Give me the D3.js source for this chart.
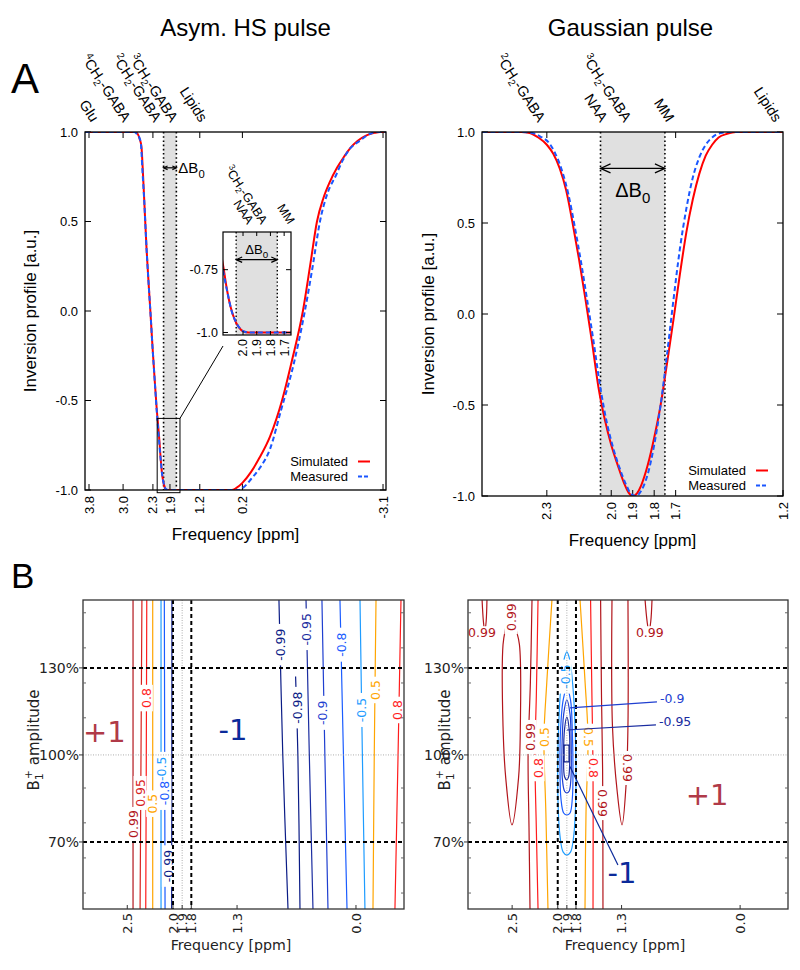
<!DOCTYPE html>
<html><head><meta charset="utf-8">
<script src="https://cdn.jsdelivr.net/npm/d3@7/dist/d3.min.js"></script>
<style>
html,body{margin:0;padding:0;background:#fff;}
svg{display:block;}
.gp{font-family:"Liberation Sans",Arial,Helvetica,sans-serif;}
.mp{font-family:"DejaVu Sans",sans-serif;}
</style></head><body>
<svg id="fig" width="800" height="970"></svg>
<script>
// ================= DATA =================
// Panel A left: asymmetric HS pulse (ppm, inversion profile)
const hsSimPpm  = [3.9,2.72,2.66,2.61,2.57,2.54,2.5,2.45,2.4,2.36,2.31,2.26,2.21,2.17,2.14,2.12,2.09,2.06,2.03,2.0,1.96,0.45,0.35,0.2,0.0,-0.2,-0.45,-0.73,-0.97,-1.22,-1.4,-1.55,-1.7,-1.85,-2.02,-2.18,-2.33,-2.5,-2.7,-2.9,-3.03,-3.17];
const hsSimVal  = [1,1,0.99,0.96,0.92,0.8,0.6,0.35,0.15,0.0,-0.2,-0.38,-0.55,-0.66,-0.75,-0.82,-0.9,-0.95,-0.98,-0.995,-1,-1,-0.99,-0.96,-0.9,-0.82,-0.7,-0.5,-0.27,0.0,0.27,0.5,0.63,0.72,0.8,0.86,0.91,0.95,0.98,0.995,1,1];
const hsMeasPpm = [3.9,2.74,2.68,2.62,2.58,2.55,2.5,2.45,2.4,2.36,2.31,2.26,2.21,2.17,2.14,2.11,2.08,2.05,2.02,1.99,1.95,0.28,0.15,0.0,-0.2,-0.45,-0.7,-1.0,-1.25,-1.45,-1.62,-1.8,-2.0,-2.15,-2.3,-2.55,-2.8,-2.95,-3.17];
const hsMeasVal = [1,1,0.99,0.97,0.93,0.8,0.6,0.35,0.15,0.0,-0.2,-0.38,-0.56,-0.68,-0.77,-0.85,-0.92,-0.96,-0.985,-0.997,-1,-1,-0.98,-0.94,-0.88,-0.77,-0.56,-0.3,-0.02,0.25,0.5,0.66,0.76,0.84,0.9,0.95,0.99,1,1];
const hsTickPpm = [3.8,3.0,2.3,1.9,1.2,0.2,-3.1];
const hsTickLbl = ["3.8","3.0","2.3","1.9","1.2","0.2","-3.1"];
const hsMetNames = ["Glu","4CH2-GABA","2CH2-GABA","3CH2-GABA","Lipids"];
const hsMetPpm   = [3.75,3.0,2.28,1.89,1.2];
const insetTickPpm = [2.0,1.9,1.8,1.7];
const insetMetNames = ["3CH2-GABA","NAA","MM"];
const insetMetPpm   = [1.9,2.0,1.7];
// Panel A right: Gaussian pulse
const gSimPpm  = [2.6,2.42,2.38,2.34,2.3,2.27,2.24,2.21,2.18,2.15,2.12,2.09,2.06,2.03,2.0,1.97,1.94,1.92,1.9,1.88,1.86,1.83,1.8,1.77,1.74,1.71,1.68,1.65,1.62,1.59,1.56,1.53,1.5,1.46,1.42,1.2];
const gSimVal  = [1,1,0.995,0.97,0.93,0.88,0.8,0.68,0.5,0.3,0.08,-0.15,-0.4,-0.58,-0.72,-0.83,-0.93,-0.98,-1,-0.985,-0.94,-0.83,-0.68,-0.5,-0.27,-0.03,0.22,0.45,0.63,0.77,0.87,0.93,0.97,0.99,1,1];
const gMeasPpm = [2.6,2.42,2.37,2.33,2.29,2.26,2.23,2.2,2.17,2.14,2.11,2.08,2.05,2.02,1.99,1.96,1.93,1.91,1.885,1.86,1.83,1.8,1.77,1.74,1.71,1.68,1.65,1.62,1.59,1.56,1.53,1.49,1.45,1.2];
const gMeasVal = [1,1,0.995,0.975,0.94,0.88,0.79,0.66,0.48,0.28,0.06,-0.17,-0.41,-0.6,-0.74,-0.85,-0.94,-0.985,-1,-0.97,-0.88,-0.72,-0.5,-0.22,0.08,0.36,0.58,0.75,0.86,0.93,0.97,0.995,1,1];
const gTickPpm = [2.3,2.0,1.9,1.8,1.7,1.2];
const gTickLbl = ["2.3","2.0","1.9","1.8","1.7","1.2"];
const gMetNames = ["2CH2-GABA","NAA","3CH2-GABA","MM","Lipids"];
const gMetPpm   = [2.3,2.01,1.9,1.7,1.2];
const yTicksA = [1.0,0.5,0.0,-0.5,-1.0];
const yLblA   = ["1.0","0.5","0.0","-0.5","-1.0"];
const dB0 = [2.05,1.75];           // ΔB0 band (ppm)
const legendNames = ["Simulated","Measured"];

// Panel B: B1 robustness contour maps (ppm, B1 %)
const bTickPpm = [2.5,2.0,1.9,1.8,1.3,0.0];
const bTickLbl = ["2.5","2.0","1.9","1.8","1.3","0.0"];
const b1Ticks  = [130,100,70];
const b1Lbl    = ["130%","100%","70%"];
const b1Minor  = [149,136.9,124.8,112.8,88.6,76.6,64.5,52.4];
// HS contours
const hsC_p99  = [[2.437,153.4],[2.437,100],[2.437,46.9]];
const hsC_p95  = [[2.34,153.4],[2.35,100],[2.36,46.9]];
const hsC_p80  = [[2.287,153.4],[2.292,100],[2.298,46.9]];
const hsC_p50  = [[2.222,153.4],[2.222,100],[2.222,46.9]];
const hsC_m50  = [[2.131,153.4],[2.131,100],[2.131,46.9]];
const hsC_m80  = [[2.095,153.4],[2.091,100],[2.087,46.9]];
const hsC_m99a = [[2.012,153.4],[2.013,100],[2.015,46.9]];
const hsC_m99b = [[0.842,153.4],[0.80,100],[0.743,46.9]];
const hsC_m98  = [[0.66,127],[0.635,100],[0.612,46.9]];
const hsC_m95  = [[0.546,153.4],[0.51,100],[0.47,46.9]];
const hsC_m90  = [[0.372,153.4],[0.34,100],[0.306,46.9]];
const hsC_m80b = [[0.175,153.4],[0.137,100],[0.098,46.9]];
const hsC_m50b = [[-0.044,153.4],[-0.07,100],[-0.098,46.9]];
const hsC_p50b = [[-0.219,153.4],[-0.2,100],[-0.186,46.9]];
const hsC_p80b = [[-0.492,153.4],[-0.46,100],[-0.426,46.9]];
const hsContours = [
  [0.99,hsC_p99],[0.95,hsC_p95],[0.8,hsC_p80],[0.5,hsC_p50],[-0.5,hsC_m50],[-0.8,hsC_m80],[-0.99,hsC_m99a],
  [-0.99,hsC_m99b],[-0.98,hsC_m98],[-0.95,hsC_m95],[-0.9,hsC_m90],[-0.8,hsC_m80b],[-0.5,hsC_m50b],[0.5,hsC_p50b],[0.8,hsC_p80b]];
// labels: [text, ppm, B1, rotation]
const hsCLabels = [
  ["0.99",2.437,76.2,-90],["0.95",2.36,86.9,-90],["0.8",2.292,119.6,-90],["0.5",2.222,83.2,-90],
  ["-0.5",2.131,95.2,-90],["-0.8",2.09,86.9,-90],["-0.99",2.05,61.7,-90],
  ["-0.99",0.83,138,-90],["-0.98",0.635,116.3,-90],["-0.95",0.537,143.3,-90],["-0.9",0.37,114.5,-90],
  ["-0.8",0.163,138,-90],["-0.5",-0.055,115.5,-90],["0.5",-0.21,122.4,-90],["0.8",-0.45,115.5,-90]];
// Gaussian contours
const gC_p99a = [[2.83,153.7],[2.815,146],[2.80,142.5],[2.785,146],[2.776,153.7]];
const gC_p99b = [[2.545,153.7],[2.56,146],[2.60,138],[2.60,110],[2.57,92],[2.502,75.9],[2.43,92],[2.41,110],[2.42,138],[2.475,146],[2.48,153.7]];
const gC_p99c = [[2.282,153.7],[2.30,125],[2.325,100],[2.315,75],[2.304,46.9]];
const gC_p99d = [[1.53,153.7],[1.52,120],[1.508,95],[1.504,46.9]];
const gC_p99e = [[1.405,153.7],[1.40,110],[1.35,88],[1.295,75.9],[1.25,90],[1.23,110],[1.23,153.7]];
const gC_p99f = [[1.043,153.7],[1.02,146],[1.0,142.5],[0.98,146],[0.966,153.7]];
const gC_p80a = [[2.216,153.7],[2.235,120],[2.25,100],[2.235,75],[2.216,46.9]];
const gC_p80b = [[1.64,153.7],[1.625,120],[1.613,95],[1.613,46.9]];
const gC_p50a = [[2.063,153.7],[2.12,125],[2.151,106],[2.13,80],[2.107,46.9]];
const gC_p50b = [[1.756,153.7],[1.70,125],[1.668,106],[1.69,80],[1.701,46.9]];
const gC_m50  = [[1.9,135.5],[1.93,133],[1.965,124],[1.99,110],[2.0,95],[1.995,82],[1.975,72],[1.94,66.5],[1.9,65.5],[1.86,66.5],[1.825,72],[1.805,82],[1.80,95],[1.81,110],[1.835,124],[1.87,133]];
const gC_m80  = [[1.9,123],[1.94,119],[1.97,108],[1.975,95],[1.965,85],[1.935,80],[1.9,79.3],[1.865,80],[1.84,85],[1.833,95],[1.84,108],[1.86,119]];
const gC_m90  = [[1.9,119],[1.935,114],[1.953,103],[1.95,92],[1.925,87.5],[1.9,86.9],[1.875,87.5],[1.855,92],[1.852,103],[1.865,114]];
const gC_m95  = [[1.9,113],[1.925,109],[1.935,100],[1.925,92.5],[1.9,91.4],[1.88,92.5],[1.868,100],[1.875,109]];
const gC_m99  = [[1.931,103.4],[1.876,103.4],[1.876,97.6],[1.931,97.6]];
const gContoursOpen = [[0.99,gC_p99a],[0.99,gC_p99b],[0.99,gC_p99c],[0.99,gC_p99d],[0.99,gC_p99e],[0.99,gC_p99f],
  [0.8,gC_p80a],[0.8,gC_p80b],[0.5,gC_p50a],[0.5,gC_p50b]];
const gContoursClosed = [[-0.5,gC_m50],[-0.8,gC_m80],[-0.9,gC_m90],[-0.95,gC_m95],[-0.99,gC_m99]];
const gCLabels = [
  ["0.99",2.83,142.1,0],["0.99",2.512,147.5,-90],["0.99",2.304,106.2,-90],["0.8",2.216,95.5,-90],["0.5",2.14,106.2,-90],
  ["-0.5",1.92,127,-90],["0.5",1.668,106.2,90],["0.8",1.613,95.5,90],["0.99",1.504,83.4,90],["0.99",1.23,95.5,90],["0.99",0.99,142.1,0]];
// leader-labelled levels [text, ppm, B1, target ppm, target B1]
const gLeaders = [["-0.9",0.879,119.3,1.866,116.2],["-0.95",0.89,111.4,1.898,108.6]];

// ================= DRAWING =================
const svg = d3.select("#fig");
const RED = "#ff0000", BLUE = "#1a56ff";
const levelColor = {"0.99":"#b2151b","0.95":"#d8221e","0.8":"#ff1c1c","0.5":"#ffa500","-0.5":"#1e9cff","-0.8":"#1a5cff","-0.9":"#1f3fd0","-0.95":"#1a2ca0","-0.98":"#0b1c86","-0.99":"#0b1c86"};

function zipPts(a,b){ return a.map((v,i)=>[v,b[i]]); }
function richText(t,n,fs){
  const m = n.match(/^(\d)CH2-GABA$/);
  const s = fs*0.68;
  if(m){
    t.append("tspan").attr("font-size",s).attr("dy",-fs*0.38).text(m[1]);
    t.append("tspan").attr("dy",fs*0.38).text("CH");
    t.append("tspan").attr("font-size",s).attr("dy",fs*0.22).text("2");
    t.append("tspan").attr("dy",-fs*0.22).text("-GABA");
  } else t.text(n);
}
function dB0Label(t,fs){
  t.append("tspan").text("ΔB");
  t.append("tspan").attr("font-size",fs*0.75).attr("dy",fs*0.3).text("0");
}
function arrow(g,xa,xb,yy,hs){
  g.append("line").attr("x1",xa).attr("x2",xb).attr("y1",yy).attr("y2",yy).attr("stroke","#000").attr("stroke-width",1.2);
  g.append("path").attr("d",`M${xa+hs},${yy-hs*0.45}L${xa},${yy}L${xa+hs},${yy+hs*0.45}`).attr("fill","none").attr("stroke","#000").attr("stroke-width",1.2);
  g.append("path").attr("d",`M${xb-hs},${yy-hs*0.45}L${xb},${yy}L${xb-hs},${yy+hs*0.45}`).attr("fill","none").attr("stroke","#000").attr("stroke-width",1.2);
}

// --- gnuplot style panel
function panelA(opt){
  const g = svg.append("g").attr("class","gp");
  const x = opt.x, y = opt.y;
  const [x0,x1] = x.range(), y1 = y.range()[0], y0 = y.range()[1];
  const clipId = opt.id+"clip";
  svg.append("defs").append("clipPath").attr("id",clipId).append("rect")
    .attr("x",x0).attr("y",y0).attr("width",x1-x0).attr("height",y1-y0);
  const tl=6;
  opt.topTicks.forEach(v=>g.append("line").attr("x1",x(v)).attr("x2",x(v)).attr("y1",y0).attr("y2",y0+tl).attr("stroke","#000"));
  g.append("rect").attr("x",x(dB0[0])).attr("y",y0).attr("width",x(dB0[1])-x(dB0[0])).attr("height",y1-y0).attr("fill","#e0e0e0");
  [dB0[0],dB0[1]].forEach(v=>g.append("line").attr("x1",x(v)).attr("x2",x(v)).attr("y1",y0).attr("y2",y1)
    .attr("stroke","#000").attr("stroke-width",1.6).attr("stroke-dasharray","1.6,2.6"));
  opt.xticks.forEach((v,i)=>{
    g.append("line").attr("x1",x(v)).attr("x2",x(v)).attr("y1",y1).attr("y2",y1-tl).attr("stroke","#000");
    g.append("text").attr("transform",`translate(${x(v)},${y1+6}) rotate(-90)`).attr("text-anchor","end")
      .attr("dy","0.35em").attr("font-size",13).text(opt.xlbl[i]);
  });
  yTicksA.forEach((v,i)=>{
    g.append("line").attr("x1",x0).attr("x2",x0+tl).attr("y1",y(v)).attr("y2",y(v)).attr("stroke","#000");
    g.append("line").attr("x1",x1).attr("x2",x1-tl).attr("y1",y(v)).attr("y2",y(v)).attr("stroke","#000");
    g.append("text").attr("x",x0-7).attr("y",y(v)).attr("dy","0.35em").attr("text-anchor","end").attr("font-size",13).text(yLblA[i]);
  });
  const line = d3.line().x(d=>x(d[0])).y(d=>y(d[1])).curve(d3.curveMonotoneX);
  const cg = g.append("g").attr("clip-path",`url(#${clipId})`);
  cg.append("path").datum(opt.sim).attr("d",line).attr("fill","none").attr("stroke",RED).attr("stroke-width",2);
  cg.append("path").datum(opt.meas).attr("d",line).attr("fill","none").attr("stroke",BLUE).attr("stroke-width",2).attr("stroke-dasharray","5,3");
  g.append("rect").attr("x",x0).attr("y",y0).attr("width",x1-x0).attr("height",y1-y0).attr("fill","none").attr("stroke","#000").attr("stroke-width",1.3);
  opt.metNames.forEach((n,i)=>{
    const t = g.append("text").attr("transform",`translate(${x(opt.metPpm[i])+opt.metDx},${y0-9}) rotate(57)`)
      .attr("text-anchor","end").attr("font-size",14.5);
    richText(t,n,14.5);
  });
  legendNames.forEach((n,i)=>{
    const ly = opt.legY - 0.5 + i*15;
    g.append("text").attr("x",opt.legX).attr("y",ly).attr("dy","0.35em").attr("text-anchor","end").attr("font-size",13).text(n);
    g.append("line").attr("x1",opt.legX+10).attr("x2",opt.legX+22).attr("y1",ly).attr("y2",ly)
      .attr("stroke",i?BLUE:RED).attr("stroke-width",2).attr("stroke-dasharray",i?"4,2":null);
  });
  g.append("text").attr("x",(x0+x1)/2).attr("y",y1+50).attr("text-anchor","middle").attr("font-size",17).text("Frequency [ppm]");
  g.append("text").attr("transform",`translate(${opt.ylabX},${(y0+y1)/2}) rotate(-90)`).attr("text-anchor","middle").attr("font-size",17).text("Inversion profile [a.u.]");
  g.append("text").attr("x",(x0+x1)/2+opt.titleDx).attr("y",36).attr("text-anchor","middle").attr("font-size",24).text(opt.title);
  return g;
}

// ---- A left
const xL = d3.scaleLinear().domain([3.894,-3.17]).range([85,386]);
const yL = d3.scaleLinear().domain([-1,1]).range([490,132]);
const gl = panelA({id:"al",x:xL,y:yL,xticks:hsTickPpm,xlbl:hsTickLbl,topTicks:hsTickPpm,
  sim:zipPts(hsSimPpm,hsSimVal),meas:zipPts(hsMeasPpm,hsMeasVal),metNames:hsMetNames,metPpm:hsMetPpm,metDx:0,
  legX:348,legY:462,ylabX:36,title:"Asym. HS pulse",titleDx:10});
arrow(gl,xL(dB0[0]),xL(dB0[1]),yL(0.8),4);
dB0Label(gl.append("text").attr("x",xL(dB0[1])+2).attr("y",yL(0.8)).attr("dy","0.35em").attr("font-size",15),15);
const zr = {p0:2.2,p1:1.665,v0:-0.6,v1:-1.015};
gl.append("rect").attr("x",xL(zr.p0)).attr("y",yL(zr.v0)).attr("width",xL(zr.p1)-xL(zr.p0)).attr("height",yL(zr.v1)-yL(zr.v0))
  .attr("fill","none").attr("stroke","#000").attr("stroke-width",1);

// ---- inset
const xI = d3.scaleLinear().domain([2.146,1.65]).range([223,291]);
const yI = d3.scaleLinear().domain([-1.01,-0.6]).range([335,232]);
{
  const g = svg.append("g").attr("class","gp");
  g.append("line").attr("x1",xL(zr.p1)).attr("y1",yL(zr.v0)).attr("x2",223).attr("y2",346).attr("stroke","#000").attr("stroke-width",1);
  g.append("rect").attr("x",223).attr("y",232).attr("width",68).attr("height",103).attr("fill","#fff");
  g.append("rect").attr("x",xI(dB0[0])).attr("y",232).attr("width",xI(dB0[1])-xI(dB0[0])).attr("height",103).attr("fill","#e0e0e0");
  dB0.forEach(v=>g.append("line").attr("x1",xI(v)).attr("x2",xI(v)).attr("y1",232).attr("y2",335).attr("stroke","#000").attr("stroke-width",1.4).attr("stroke-dasharray","1.4,2.4"));
  svg.append("defs").append("clipPath").attr("id","iclip").append("rect").attr("x",223).attr("y",232).attr("width",68).attr("height",103);
  const line = d3.line().x(d=>xI(d[0])).y(d=>yI(d[1])).curve(d3.curveMonotoneX);
  const cg = g.append("g").attr("clip-path","url(#iclip)");
  cg.append("path").datum(zipPts(hsSimPpm,hsSimVal)).attr("d",line).attr("fill","none").attr("stroke",RED).attr("stroke-width",2);
  cg.append("path").datum(zipPts(hsMeasPpm,hsMeasVal)).attr("d",line).attr("fill","none").attr("stroke",BLUE).attr("stroke-width",2).attr("stroke-dasharray","5,3");
  insetTickPpm.forEach(v=>{
    g.append("line").attr("x1",xI(v)).attr("x2",xI(v)).attr("y1",335).attr("y2",331).attr("stroke","#000");
    g.append("line").attr("x1",xI(v)).attr("x2",xI(v)).attr("y1",232).attr("y2",236).attr("stroke","#000");
    g.append("text").attr("transform",`translate(${xI(v)},${339}) rotate(-90)`).attr("text-anchor","end").attr("dy","0.35em").attr("font-size",12.5).text(v.toFixed(1));
  });
  [[-0.75,"-0.75"],[-1.0,"-1.0"]].forEach(([v,l])=>{
    g.append("line").attr("x1",223).attr("x2",228).attr("y1",yI(v)).attr("y2",yI(v)).attr("stroke","#000");
    g.append("line").attr("x1",291).attr("x2",286).attr("y1",yI(v)).attr("y2",yI(v)).attr("stroke","#000");
    g.append("text").attr("x",218).attr("y",yI(v)).attr("dy","0.35em").attr("text-anchor","end").attr("font-size",12.5).text(l);
  });
  g.append("rect").attr("x",223).attr("y",232).attr("width",68).attr("height",103).attr("fill","none").attr("stroke","#000").attr("stroke-width",1.2);
  arrow(g,xI(dB0[0]),xI(dB0[1]),yI(-0.71),6);
  dB0Label(g.append("text").attr("x",(xI(dB0[0])+xI(dB0[1]))/2).attr("y",254).attr("text-anchor","middle").attr("font-size",13),13);
  insetMetNames.forEach((n,i)=>{
    const t = g.append("text").attr("transform",`translate(${xI(insetMetPpm[i])+4},${225}) rotate(57)`).attr("text-anchor","end").attr("font-size",12.5);
    richText(t,n,12.5);
  });
}

// ---- A right
const xR = d3.scaleLinear().domain([2.602,1.2]).range([482,783]);
const yR = d3.scaleLinear().domain([-1,1]).range([496,132]);
const gr = panelA({id:"ar",x:xR,y:yR,xticks:gTickPpm,xlbl:gTickLbl,topTicks:[2.3,1.9,1.7],
  sim:zipPts(gSimPpm,gSimVal),meas:zipPts(gMeasPpm,gMeasVal),metNames:gMetNames,metPpm:gMetPpm,metDx:-9,
  legX:746,legY:471,ylabX:434,title:"Gaussian pulse",titleDx:-2});
arrow(gr,xR(dB0[0]),xR(dB0[1]),yR(0.8),10);
dB0Label(gr.append("text").attr("x",(xR(dB0[0])+xR(dB0[1]))/2).attr("y",197).attr("text-anchor","middle").attr("font-size",20),20);

// panel letters
svg.append("text").attr("class","gp").attr("x",11).attr("y",93).attr("font-size",42).text("A");
svg.append("text").attr("class","gp").attr("x",11).attr("y",588).attr("font-size",35).text("B");

// ---- Panel B
function panelB(opt){
  const g = svg.append("g").attr("class","mp");
  const x = opt.x, y = opt.y;
  const [x0,x1] = x.range(), y1 = y.range()[0], y0 = y.range()[1];
  const clipId = opt.id+"clip", maskId = opt.id+"mask";
  const defs = svg.append("defs");
  defs.append("clipPath").attr("id",clipId).append("rect").attr("x",x0).attr("y",y0).attr("width",x1-x0).attr("height",y1-y0);
  const mask = defs.append("mask").attr("id",maskId).attr("maskUnits","userSpaceOnUse").attr("x",0).attr("y",0).attr("width",800).attr("height",970);
  mask.append("rect").attr("x",0).attr("y",0).attr("width",800).attr("height",970).attr("fill","#fff");
  const fs = 12.5;
  opt.labels.forEach(([t,p,b,r])=>{
    const w = t.length*fs*0.6+4, h = fs*1.05;
    mask.append("rect").attr("transform",`translate(${x(p)},${y(b)}) rotate(${r})`).attr("x",-w/2).attr("y",-h/2).attr("width",w).attr("height",h).attr("fill","#000");
  });
  const cg = g.append("g").attr("clip-path",`url(#${clipId})`);
  const cg2 = cg.append("g").attr("mask",`url(#${maskId})`);
  const lineO = d3.line().x(d=>x(d[0])).y(d=>y(d[1])).curve(d3.curveCatmullRom);
  const lineC = d3.line().x(d=>x(d[0])).y(d=>y(d[1])).curve(d3.curveCatmullRomClosed);
  const lineR = d3.line().x(d=>x(d[0])).y(d=>y(d[1])).curve(d3.curveLinearClosed);
  opt.open.forEach(([lv,pts])=>cg2.append("path").attr("d",lineO(pts)).attr("fill","none").attr("stroke",levelColor[String(lv)]).attr("stroke-width",1.2));
  (opt.closed||[]).forEach(([lv,pts])=>cg2.append("path").attr("d",(lv===-0.99?lineR:lineC)(pts)).attr("fill","none").attr("stroke",levelColor[String(lv)]).attr("stroke-width",1.2));
  opt.labels.forEach(([t,p,b,r])=>{
    cg.append("text").attr("transform",`translate(${x(p)},${y(b)}) rotate(${r})`).attr("text-anchor","middle").attr("dy","0.36em")
      .attr("font-size",fs).attr("fill",levelColor[t]).text(t);
  });
  cg.append("line").attr("x1",x(1.9)).attr("x2",x(1.9)).attr("y1",y0).attr("y2",y1).attr("stroke","#999").attr("stroke-width",0.8).attr("stroke-dasharray","1,1.5");
  cg.append("line").attr("x1",x0).attr("x2",x1).attr("y1",y(100)).attr("y2",y(100)).attr("stroke","#999").attr("stroke-width",0.8).attr("stroke-dasharray","1,1.5");
  [2.0,1.8].forEach(v=>cg.append("line").attr("x1",x(v)).attr("x2",x(v)).attr("y1",y0).attr("y2",y1).attr("stroke","#000").attr("stroke-width",2).attr("stroke-dasharray","4,3"));
  [130,70].forEach(v=>cg.append("line").attr("x1",x0).attr("x2",x1).attr("y1",y(v)).attr("y2",y(v)).attr("stroke","#000").attr("stroke-width",2).attr("stroke-dasharray","4,3"));
  g.append("rect").attr("x",x0).attr("y",y0).attr("width",x1-x0).attr("height",y1-y0).attr("fill","none").attr("stroke","#333").attr("stroke-width",1.3);
  bTickPpm.forEach((v,i)=>{
    g.append("line").attr("x1",x(v)).attr("x2",x(v)).attr("y1",y1).attr("y2",y1-4).attr("stroke","#333");
    g.append("text").attr("transform",`translate(${x(v)},${y1+4}) rotate(-90)`).attr("text-anchor","end").attr("dy","0.36em").attr("font-size",13).attr("fill","#222").text(bTickLbl[i]);
  });
  b1Ticks.forEach((v,i)=>{
    g.append("line").attr("x1",x0-4).attr("x2",x0).attr("y1",y(v)).attr("y2",y(v)).attr("stroke","#333");
    g.append("text").attr("x",x0-4).attr("y",y(v)).attr("dy","0.36em").attr("text-anchor","end").attr("font-size",14).attr("fill","#222").text(b1Lbl[i]);
  });
  b1Minor.forEach(v=>{
    g.append("line").attr("x1",x0).attr("x2",x0+3).attr("y1",y(v)).attr("y2",y(v)).attr("stroke","#666");
    g.append("line").attr("x1",x1).attr("x2",x1-3).attr("y1",y(v)).attr("y2",y(v)).attr("stroke","#666");
  });
  g.append("text").attr("x",opt.xlabX).attr("y",950).attr("text-anchor","middle").attr("font-size",14.2).attr("fill","#222").text("Frequency [ppm]");
  const yl = g.append("text").attr("transform",`translate(${opt.ylabX},740) rotate(-90)`).attr("text-anchor","middle").attr("font-size",15).attr("fill","#222");
  yl.append("tspan").text("B");
  yl.append("tspan").attr("font-size",11).attr("dy",4).text("1");
  yl.append("tspan").attr("font-size",11).attr("dx",-6).attr("dy",-11).text("+");
  yl.append("tspan").attr("dy",7).text(" amplitude");
  return {g,cg};
}
const yB = d3.scaleLinear().domain([46.9,153.4]).range([909,600]);
const xBL = d3.scaleLinear().domain([2.984,-0.525]).range([83,404]);
const xBR = d3.scaleLinear().domain([2.984,-0.525]).range([468,788]);
const bl = panelB({id:"bl",x:xBL,y:yB,open:hsContours,labels:hsCLabels,ylabX:39,xlabX:231});
bl.cg.append("text").attr("x",xBL(2.75)).attr("y",yB(108)).attr("dy","0.36em").attr("text-anchor","middle").attr("font-size",29).attr("fill","#b03a48").text("+1");
bl.cg.append("text").attr("x",xBL(1.344)).attr("y",yB(108.6)).attr("dy","0.36em").attr("text-anchor","middle").attr("font-size",29).attr("fill","#0b2a9a").text("-1");
const br = panelB({id:"br",x:xBR,y:yB,open:gContoursOpen,closed:gContoursClosed,labels:gCLabels,ylabX:450,xlabX:625});
{
  const cg = br.cg;
  cg.append("text").attr("x",xBR(0.363)).attr("y",yB(86.2)).attr("dy","0.36em").attr("text-anchor","middle").attr("font-size",29).attr("fill","#b03a48").text("+1");
  cg.append("text").attr("x",xBR(1.295)).attr("y",yB(59.3)).attr("dy","0.36em").attr("text-anchor","middle").attr("font-size",29).attr("fill","#0b2a9a").text("-1");
  cg.append("line").attr("x1",xBR(1.34)).attr("y1",yB(62.1)).attr("x2",xBR(1.866)).attr("y2",yB(96)).attr("stroke","#0b2a9a").attr("stroke-width",1.2);
  gLeaders.forEach(([t,p,b,p2,b2])=>{
    cg.append("line").attr("x1",xBR(p)-3).attr("y1",yB(b)+3).attr("x2",xBR(p2)).attr("y2",yB(b2)).attr("stroke",levelColor[t]).attr("stroke-width",1.2);
    cg.append("text").attr("x",xBR(p)).attr("y",yB(b)).attr("dy","0.36em").attr("font-size",12.5).attr("fill",levelColor[t]).text(t);
  });
}
</script></body></html>
